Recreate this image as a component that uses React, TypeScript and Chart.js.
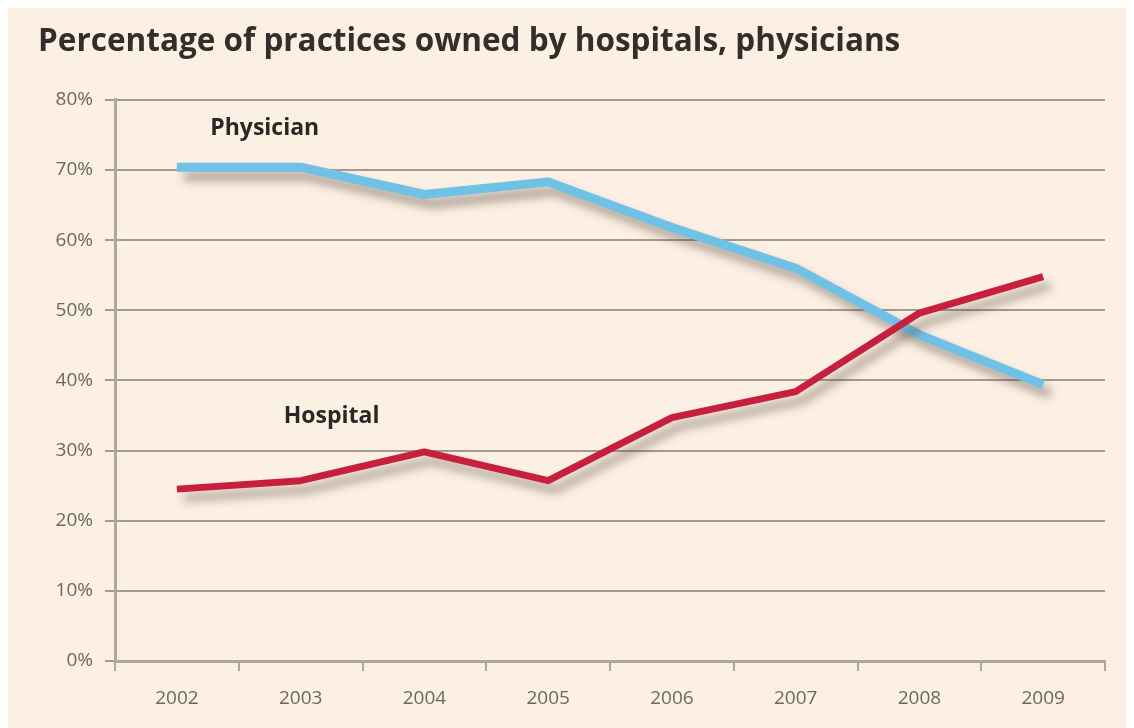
import React, { useEffect, useRef } from "react";
import { Chart, registerables } from "chart.js";

Chart.register(...registerables);

const years = ["2002", "2003", "2004", "2005", "2006", "2007", "2008", "2009"];
const physician = [70.4, 70.4, 66.5, 68.3, 61.8, 56.0, 46.5, 39.4];
const hospital = [24.5, 25.7, 29.8, 25.7, 34.7, 38.4, 49.6, 54.8];
const yTicks = [0, 10, 20, 30, 40, 50, 60, 70, 80];
const titleText = "Percentage of practices owned by hospitals, physicians";
const seriesLabels = [
  { text: "Physician", xIndex: 0.71, yValue: 75.9 },
  { text: "Hospital", xIndex: 1.25, yValue: 34.8 },
];

const BG = "#fcefe3";
const GRID = "#a39a8f";
const AXIS = "#b0a79b";
const LABEL = "#6e6760";

export default function App() {
  const ref = useRef<HTMLCanvasElement | null>(null);

  useEffect(() => {
    document.body.style.overflow = "hidden";
    const canvas = ref.current;
    if (!canvas) return;

    const bgPlugin = {
      id: "bg",
      beforeDraw(chart: any) {
        const { ctx, width, height } = chart;
        ctx.save();
        ctx.fillStyle = BG;
        ctx.fillRect(0, 0, width, height);
        ctx.restore();
      },
    };

    const shadowPlugin = {
      id: "shadow",
      beforeDatasetDraw(chart: any) {
        const ctx = chart.ctx;
        ctx.save();
        ctx.shadowColor = "rgba(70,60,50,0.45)";
        ctx.shadowBlur = 10;
        ctx.shadowOffsetX = 7;
        ctx.shadowOffsetY = 9;
      },
      afterDatasetDraw(chart: any) {
        chart.ctx.restore();
      },
    };

    const labelPlugin = {
      id: "seriesLabels",
      afterDatasetsDraw(chart: any) {
        const { ctx, scales } = chart;
        ctx.save();
        ctx.fillStyle = "#2a2725";
        ctx.font = "bold 23px 'Open Sans'";
        ctx.textAlign = "center";
        ctx.textBaseline = "middle";
        for (const l of seriesLabels) {
          const x = scales.x.getPixelForValue(l.xIndex);
          const y = scales.y.getPixelForValue(l.yValue);
          ctx.fillText(l.text, x, y);
        }
        ctx.restore();
      },
    };

    const chart = new Chart(canvas, {
      type: "line",
      data: {
        labels: years,
        datasets: [
          {
            label: "Hospital",
            data: hospital,
            borderColor: "#c71f3e",
            borderWidth: 7,
            pointRadius: 0,
            tension: 0,
            borderJoinStyle: "round",
            fill: false,
          },
          {
            label: "Physician",
            data: physician,
            borderColor: "#6fc1e6",
            borderWidth: 9,
            pointRadius: 0,
            tension: 0,
            borderJoinStyle: "round",
            fill: false,
          },
        ],
      },
      options: {
        animation: false,
        responsive: false,
        devicePixelRatio: 1,
        layout: { padding: { left: 30, right: 29, top: 0, bottom: 0 } },
        plugins: {
          legend: { display: false },
          tooltip: { enabled: false },
          title: {
            display: true,
            text: titleText,
            align: "start",
            color: "#332e2a",
            font: { family: "'Open Sans'", size: 31.5, weight: "bold" },
            padding: { top: 15, bottom: 39 },
          },
        },
        scales: {
          x: {
            type: "category",
            offset: true,
            afterFit: (s: any) => {
              s.height = 67;
            },
            grid: {
              offset: true,
              drawOnChartArea: false,
              drawTicks: true,
              tickLength: 10,
              color: AXIS,
              lineWidth: 2,
            },
            border: { display: true, color: AXIS, width: 3 },
            ticks: {
              color: LABEL,
              font: { family: "'Open Sans'", size: 19 },
              padding: 16,
              maxRotation: 0,
            },
          },
          y: {
            min: 0,
            max: 80,
            afterFit: (s: any) => {
              s.width = 77;
            },
            afterBuildTicks: (s: any) => {
              s.ticks = yTicks.map((v) => ({ value: v }));
            },
            grid: {
              color: GRID,
              lineWidth: 2,
              drawTicks: true,
              tickLength: 10,
            },
            border: { display: true, color: AXIS, width: 3 },
            ticks: {
              color: LABEL,
              font: { family: "'Open Sans'", size: 19 },
              padding: 12,
              callback: (v: any) => v + "%",
            },
          },
        },
      },
      plugins: [bgPlugin, shadowPlugin, labelPlugin],
    } as any);

    return () => chart.destroy();
  }, []);

  return (
    <div style={{ width: 1126, height: 720 }}>
      <canvas ref={ref} width={1126} height={720} style={{ display: "block" }} />
    </div>
  );
}
